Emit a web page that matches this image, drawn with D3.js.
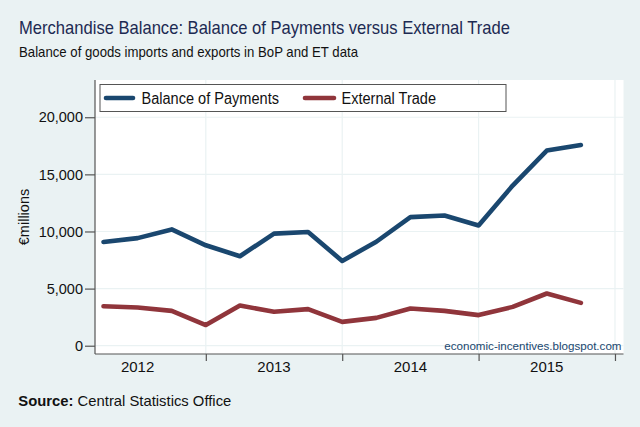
<!DOCTYPE html>
<html>
<head>
<meta charset="utf-8">
<script src="https://cdn.jsdelivr.net/npm/d3@7"></script>
<style>
  html, body { margin: 0; padding: 0; background: #EAF2F3; }
  svg { display: block; font-family: "Liberation Sans", Arial, sans-serif; }
</style>
</head>
<body>
<script>
const quarters = ["2012Q1","2012Q2","2012Q3","2012Q4","2013Q1","2013Q2","2013Q3","2013Q4",
                  "2014Q1","2014Q2","2014Q3","2014Q4","2015Q1","2015Q2","2015Q3"];
const balanceOfPayments = [9075, 9420, 10180, 8790, 7830, 9810, 9950, 7420,
                           9100, 11260, 11400, 10530, 14020, 17080, 17570];
const externalTrade = [3460, 3350, 3050, 1810, 3520, 2970, 3200, 2090,
                       2440, 3260, 3050, 2680, 3400, 4570, 3750];
const yTicks = [0, 5000, 10000, 15000, 20000];
const yearLabels = ["2012", "2013", "2014", "2015"];
const seriesNames = ["Balance of Payments", "External Trade"];
const colors = ["#1a476f", "#90353b"];

const W = 640, H = 427;
const svg = d3.select("body").append("svg").attr("width", W).attr("height", H);
svg.append("rect").attr("width", W).attr("height", H).attr("fill", "#EAF2F3");

const plot = {left: 95, right: 623.5, top: 80, bottom: 354};
const x = d3.scaleLinear().domain([-0.25, 15.25]).range([plot.left, plot.right]);
const y = d3.scaleLinear().domain([-725, 23260]).range([plot.bottom, plot.top]);

// plot region
svg.append("rect").attr("x", plot.left).attr("y", plot.top)
  .attr("width", plot.right - plot.left).attr("height", plot.bottom - plot.top)
  .attr("fill", "#ffffff");

// year boundaries (Q4 of each year)
const boundaries = yearLabels.map((yr, i) => quarters.indexOf(yr + "Q4") >= 0 ? quarters.indexOf(yr + "Q4") : 3 + 4 * i);

// gridlines
svg.append("g").selectAll("line").data(yTicks).join("line")
  .attr("x1", plot.left).attr("x2", plot.right)
  .attr("y1", d => y(d)).attr("y2", d => y(d))
  .attr("stroke", "#EAF2F3").attr("stroke-width", 1.2);
svg.append("g").selectAll("line").data(boundaries).join("line")
  .attr("x1", d => x(d)).attr("x2", d => x(d))
  .attr("y1", plot.top).attr("y2", plot.bottom)
  .attr("stroke", "#EAF2F3").attr("stroke-width", 1.2);

// axes
const yAxis = d3.axisLeft(y).tickValues(yTicks).tickFormat(d3.format(",")).tickSize(10).tickPadding(2);
const gy = svg.append("g").attr("transform", `translate(${plot.left},0)`).call(yAxis);
gy.select(".domain").attr("d", `M0,${plot.top}V${plot.bottom}`).attr("stroke", "#555").attr("stroke-width", 1.2);
gy.selectAll(".tick line").attr("stroke", "#555").attr("stroke-width", 1.2);
gy.selectAll(".tick text").attr("font-size", 14.5).attr("fill", "#111").attr("font-family", "Liberation Sans, Arial, sans-serif");

const xAxis = d3.axisBottom(x).tickValues(boundaries).tickFormat("").tickSize(7);
const gx = svg.append("g").attr("transform", `translate(0,${plot.bottom})`).call(xAxis);
gx.select(".domain").attr("d", `M${plot.left},0H${plot.right}`).attr("stroke", "#555").attr("stroke-width", 1.2);
gx.selectAll(".tick line").attr("stroke", "#555").attr("stroke-width", 1.2);

// year labels at Q2 of each year
svg.append("g").selectAll("text").data(yearLabels).join("text")
  .attr("x", d => x(quarters.indexOf(d + "Q2")))
  .attr("y", 372)
  .attr("text-anchor", "middle").attr("font-size", 15).attr("fill", "#111")
  .text(d => d);

// y title
svg.append("text").attr("transform", `translate(29,${(plot.top + plot.bottom) / 2}) rotate(-90)`)
  .attr("text-anchor", "middle").attr("font-size", 14.5).attr("fill", "#111")
  .text("€millions");

// lines
const line = d3.line().x((d, i) => x(i)).y(d => y(d));
[balanceOfPayments, externalTrade].forEach((s, k) => {
  svg.append("path").datum(s).attr("d", line)
    .attr("fill", "none").attr("stroke", colors[k]).attr("stroke-width", 4.6)
    .attr("stroke-linecap", "round").attr("stroke-linejoin", "round");
});

// legend
svg.append("rect").attr("x", 100).attr("y", 84.5).attr("width", 406).attr("height", 27)
  .attr("fill", "#fff").attr("stroke", "#555").attr("stroke-width", 1);
const legendItems = [
  {k: 0, x1: 106, x2: 133, tx: 141.5, tw: 137.5},
  {k: 1, x1: 305, x2: 334, tx: 341.5, tw: 94.5}
];
legendItems.forEach(it => {
  svg.append("line").attr("x1", it.x1).attr("x2", it.x2).attr("y1", 98).attr("y2", 98)
    .attr("stroke", colors[it.k]).attr("stroke-width", 4.6).attr("stroke-linecap", "round");
  svg.append("text").attr("x", it.tx).attr("y", 104.3).attr("font-size", 16).attr("fill", "#111")
    .attr("textLength", it.tw).attr("lengthAdjust", "spacingAndGlyphs")
    .text(seriesNames[it.k]);
});

// watermark
svg.append("text").attr("x", 621.5).attr("y", 349.5).attr("text-anchor", "end")
  .attr("font-size", 11.6).attr("fill", "#1a476f")
  .text("economic-incentives.blogspot.com");

// titles
svg.append("text").attr("x", 19).attr("y", 34.3).attr("font-size", 18.6).attr("fill", "#1c2a52")
  .attr("textLength", 491).attr("lengthAdjust", "spacingAndGlyphs")
  .text("Merchandise Balance: Balance of Payments versus External Trade");
svg.append("text").attr("x", 19).attr("y", 56.7).attr("font-size", 15).attr("fill", "#111")
  .attr("textLength", 339).attr("lengthAdjust", "spacingAndGlyphs")
  .text("Balance of goods imports and exports in BoP and ET data");

// source
const src = svg.append("text").attr("x", 18.3).attr("y", 406).attr("font-size", 15).attr("fill", "#111")
  .attr("textLength", 213).attr("lengthAdjust", "spacingAndGlyphs");
src.append("tspan").attr("font-weight", "bold").text("Source:");
src.append("tspan").text(" Central Statistics Office");
</script>
</body>
</html>
